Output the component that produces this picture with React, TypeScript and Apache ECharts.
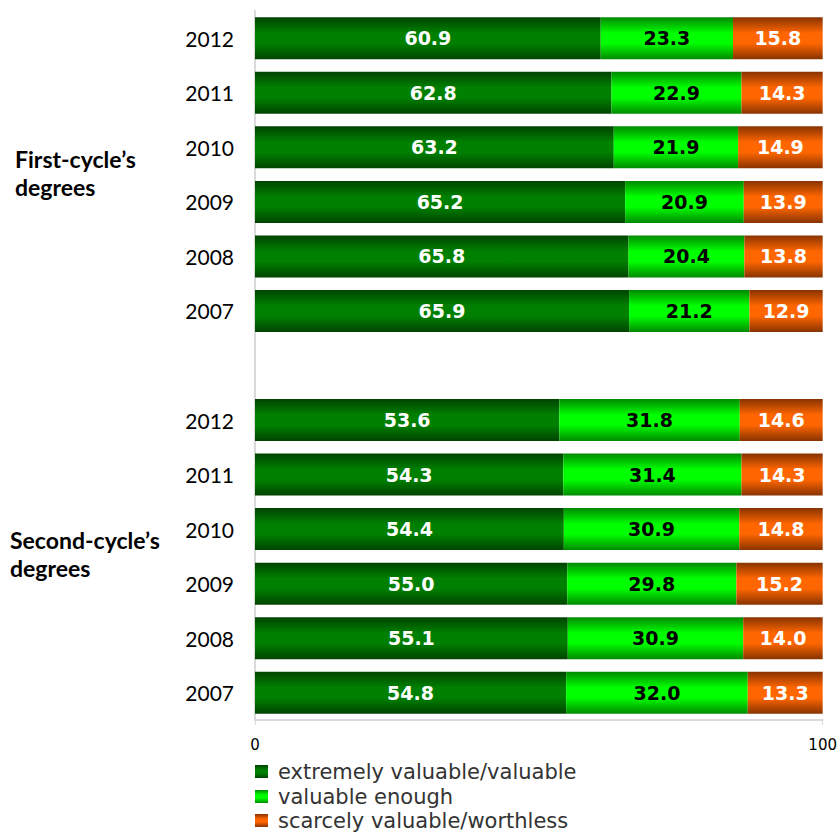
import React, { useEffect, useRef } from "react";
import * as echarts from "echarts";

const years = ["2012", "2011", "2010", "2009", "2008", "2007"];
const groupLabels = ["First-cycle’s\ndegrees", "Second-cycle’s\ndegrees"];
const seriesNames = ["extremely valuable/valuable", "valuable enough", "scarcely valuable/worthless"];

const firstHigh = [60.9, 62.8, 63.2, 65.2, 65.8, 65.9];
const firstMid = [23.3, 22.9, 21.9, 20.9, 20.4, 21.2];
const firstLow = [15.8, 14.3, 14.9, 13.9, 13.8, 12.9];

const secondHigh = [53.6, 54.3, 54.4, 55.0, 55.1, 54.8];
const secondMid = [31.8, 31.4, 30.9, 29.8, 30.9, 32.0];
const secondLow = [14.6, 14.3, 14.8, 15.2, 14.0, 13.3];

const xTicks = [0, 100];

function grad(edge: string, mid: string) {
  return new echarts.graphic.LinearGradient(0, 0, 0, 1, [
    { offset: 0, color: edge },
    { offset: 0.38, color: mid },
    { offset: 0.62, color: mid },
    { offset: 1, color: edge },
  ]);
}

export default function App() {
  const ref = useRef<HTMLDivElement>(null);
  useEffect(() => {
    if (!ref.current) return;
    const chart = echarts.init(ref.current, null, { renderer: "svg" });
    const cats = [
      ...years.map((y) => "a" + y),
      "gap",
      ...years.map((y) => "b" + y),
    ];
    const join = (a: number[], b: number[]) => [...a, "-", ...b];
    const colors = [
      grad("#004400", "#008000"),
      grad("#008a00", "#00ff00"),
      grad("#883300", "#ff6600"),
    ];
    const labelColors = ["#ffffff", "#000000", "#ffffff"];
    const datas = [
      join(firstHigh, secondHigh),
      join(firstMid, secondMid),
      join(firstLow, secondLow),
    ];
    const legendTops = [756, 781, 805];
    chart.setOption({
      animation: false,
      grid: { left: 255, right: 16, top: 11, bottom: 112, containLabel: false },
      legend: seriesNames.map((n, i) => ({
        orient: "vertical",
        left: 250,
        top: legendTops[i],
        itemWidth: 13,
        itemHeight: 13,
        icon: "rect",
        textStyle: {
          fontFamily: "DejaVu Sans",
          fontSize: 21,
          color: "#333333",
          padding: [0, 0, 0, 5],
        },
        data: [n],
      })),
      xAxis: {
        type: "value",
        min: 0,
        max: 100,
        interval: 100,
        axisLine: { show: true, lineStyle: { color: "#d9d9d9", width: 2 } },
        axisTick: { show: true, length: 5, lineStyle: { color: "#d9d9d9" } },
        splitLine: { show: false },
        axisLabel: {
          fontFamily: "DejaVu Sans",
          fontSize: 15,
          color: "#000",
          margin: 17,
          formatter: (v: number) => (xTicks.includes(v) ? String(v) : ""),
        },
      },
      yAxis: {
        type: "category",
        inverse: true,
        data: cats,
        axisLine: { show: true, lineStyle: { color: "#d9d9d9", width: 2 } },
        axisTick: { show: false },
        axisLabel: {
          fontFamily: "Lato",
          fontSize: 21,
          color: "#000",
          margin: 21,
          formatter: (v: string) => (v === "gap" ? "" : v.slice(1)),
        },
      },
      graphic: [
        {
          type: "text",
          left: 15,
          top: 145,
          style: {
            text: groupLabels[0],
            fontFamily: "Lato",
            fontWeight: "bold",
            fontSize: 23,
            lineHeight: 28,
            fill: "#000",
          },
        },
        {
          type: "text",
          left: 10,
          top: 526,
          style: {
            text: groupLabels[1],
            fontFamily: "Lato",
            fontWeight: "bold",
            fontSize: 23,
            lineHeight: 28,
            fill: "#000",
          },
        },
      ],
      series: seriesNames.map((name, i) => ({
        name,
        type: "bar",
        stack: "total",
        barWidth: 42,
        data: datas[i],
        itemStyle: { color: colors[i] },
        label: {
          show: true,
          position: "inside",
          fontFamily: "DejaVu Sans",
          fontWeight: "bold",
          fontSize: 19,
          color: labelColors[i],
          formatter: (p: any) => Number(p.value).toFixed(1),
        },
      })),
    });
    return () => chart.dispose();
  }, []);
  return (
    <div
      ref={ref}
      style={{ position: "absolute", left: 0, top: 0, width: 840, height: 832 }}
    />
  );
}
